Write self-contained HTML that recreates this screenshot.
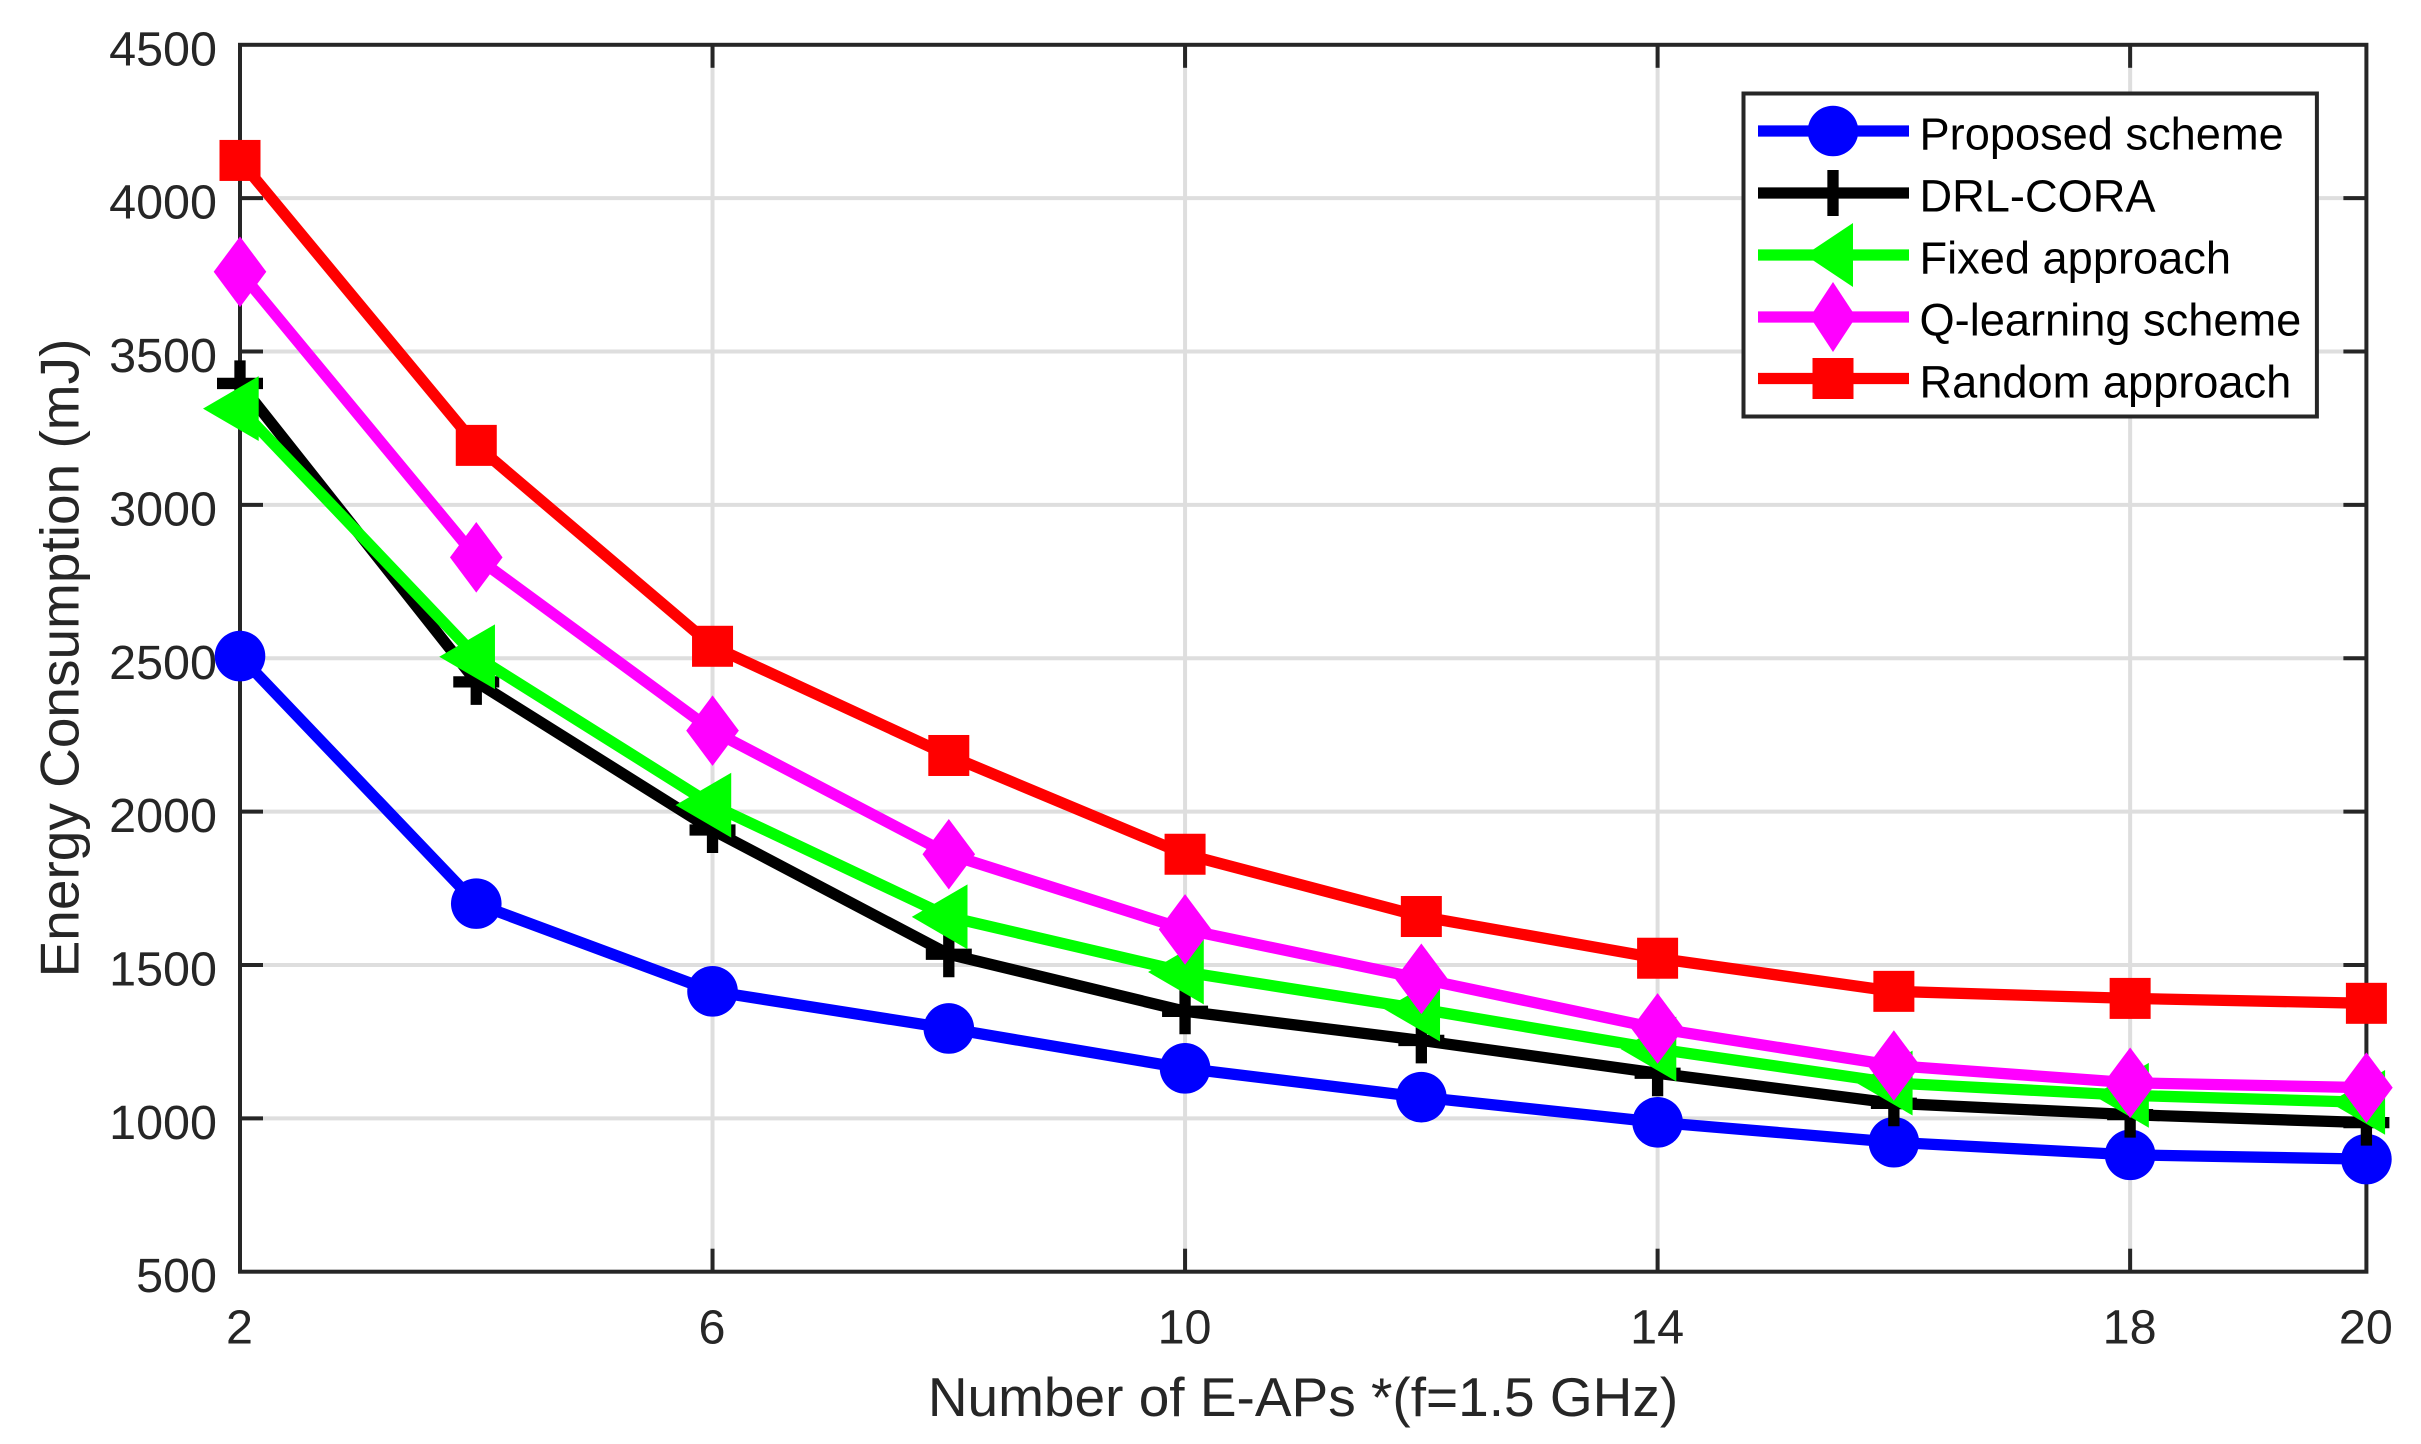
<!DOCTYPE html>
<html lang="en">
<head>
<meta charset="utf-8">
<title>Energy Consumption vs Number of E-APs</title>
<style>
  html, body { margin: 0; padding: 0; background: #ffffff; }
  #chart { display: block; width: 2421px; height: 1444px; font-family: "Liberation Sans", Arial, sans-serif; }
</style>
</head>
<body>
<svg id="chart" xmlns="http://www.w3.org/2000/svg" width="2421" height="1444" viewBox="0 0 2421 1444">
  <rect x="0" y="0" width="2421" height="1444" fill="#ffffff"/>
  <g id="grid-layer"></g>
  <g id="axes-layer"></g>
  <g id="series-layer"></g>

  <text x="1303" y="1416" font-size="55" fill="#262626" text-anchor="middle">Number of E-APs *(f=1.5 GHz)</text>
  <text transform="translate(78.3 658) rotate(-90)" font-size="55" fill="#262626" text-anchor="middle">Energy Consumption (mJ)</text>

  <g>
    <rect x="1743.5" y="93.5" width="573.4" height="323" fill="#ffffff" stroke="#262626" stroke-width="4"/>

    <g>
      <line x1="1758" y1="131" x2="1909" y2="131" stroke="#0000ff" stroke-width="11.3"/>
      <circle cx="1833" cy="131" r="25.3" fill="#0000ff"/>
      <text x="1919.5" y="149.3" font-size="45.2" fill="#000000">Proposed scheme</text>
    </g>
    <g>
      <line x1="1758" y1="193" x2="1909" y2="193" stroke="#000000" stroke-width="11.3"/>
      <line x1="1833" y1="170" x2="1833" y2="216" stroke="#000000" stroke-width="11.3"/>
      <text x="1919.5" y="211.7" font-size="45.2" fill="#000000">DRL-CORA</text>
    </g>
    <g>
      <line x1="1758" y1="255" x2="1909" y2="255" stroke="#00ff00" stroke-width="11.3"/>
      <polygon points="1805,255 1853,223 1853,287" fill="#00ff00"/>
      <text x="1919.5" y="273.3" font-size="45.2" fill="#000000">Fixed approach</text>
    </g>
    <g>
      <line x1="1758" y1="317" x2="1909" y2="317" stroke="#ff00ff" stroke-width="11.3"/>
      <polygon points="1833,282 1856,317 1833,352 1810,317" fill="#ff00ff"/>
      <text x="1919.5" y="335.3" font-size="45.2" fill="#000000">Q-learning scheme</text>
    </g>
    <g>
      <line x1="1758" y1="378.5" x2="1909" y2="378.5" stroke="#ff0000" stroke-width="11.3"/>
      <rect x="1812.5" y="358" width="41" height="41" fill="#ff0000"/>
      <text x="1919.5" y="397.7" font-size="45.2" fill="#000000">Random approach</text>
    </g>
  </g>
</svg>

<script>
const categories = [2, 4, 6, 8, 10, 12, 14, 16, 18, 20];
const xTickValues = [2, 6, 10, 14, 18, 20];
const yTickValues = [500, 1000, 1500, 2000, 2500, 3000, 3500, 4000, 4500];
const proposedScheme = [2507, 1700, 1414, 1293, 1163, 1069, 987, 922, 881, 867];
const drlCora = [3396, 2423, 1940, 1535, 1349, 1254, 1147, 1049, 1012, 986];
const fixedApproach = [3314, 2505, 2021, 1657, 1477, 1356, 1226, 1115, 1075, 1052];
const qLearningScheme = [3760, 2829, 2264, 1861, 1616, 1455, 1293, 1172, 1116, 1100];
const randomApproach = [4123, 3194, 2539, 2183, 1861, 1658, 1522, 1414, 1391, 1375];

const SVG_NS = 'http://www.w3.org/2000/svg';
const plotLeft = 240, plotRight = 2366.4, plotTop = 44.8, plotBottom = 1271.7;
const xMin = 2, xMax = 20, yMin = 500, yMax = 4500;
const tickLength = 23, axisColor = '#262626', gridColor = '#dedede', axisWidth = 4;

function xScale(v) { return plotLeft + (v - xMin) / (xMax - xMin) * (plotRight - plotLeft); }
function yScale(v) { return plotBottom - (v - yMin) / (yMax - yMin) * (plotBottom - plotTop); }

function make(tag, attrs, parent) {
  const el = document.createElementNS(SVG_NS, tag);
  for (const k in attrs) el.setAttribute(k, attrs[k]);
  parent.appendChild(el);
  return el;
}

const gridLayer = document.getElementById('grid-layer');
const axesLayer = document.getElementById('axes-layer');
const seriesLayer = document.getElementById('series-layer');

xTickValues.forEach(function (t) {
  const x = xScale(t);
  if (t !== xMin && t !== xMax) {
    const g = make('line', { x1: x, x2: x, y1: plotTop, y2: plotBottom, stroke: gridColor, 'stroke-width': axisWidth }, gridLayer);
    
    
    const a = make('line', { x1: x, x2: x, y1: plotBottom, y2: plotBottom - tickLength, stroke: axisColor, 'stroke-width': axisWidth }, axesLayer);
    
    
    const b = make('line', { x1: x, x2: x, y1: plotTop, y2: plotTop + tickLength, stroke: axisColor, 'stroke-width': axisWidth }, axesLayer);
    
    
  }
  const label = make('text', { x: x - 0.5, y: 1343.3, 'font-size': 48.5, fill: axisColor, 'text-anchor': 'middle' }, axesLayer);
  
  
  label.textContent = String(t);
});

yTickValues.forEach(function (t) {
  const y = yScale(t);
  if (t !== yMin && t !== yMax) {
    const g = make('line', { x1: plotLeft, x2: plotRight, y1: y, y2: y, stroke: gridColor, 'stroke-width': axisWidth }, gridLayer);
    
    
    const a = make('line', { x1: plotLeft, x2: plotLeft + tickLength, y1: y, y2: y, stroke: axisColor, 'stroke-width': axisWidth }, axesLayer);
    
    
    const b = make('line', { x1: plotRight, x2: plotRight - tickLength, y1: y, y2: y, stroke: axisColor, 'stroke-width': axisWidth }, axesLayer);
    
    
  }
  const label = make('text', { x: 217, y: y + 20.5, 'font-size': 48.5, fill: axisColor, 'text-anchor': 'end' }, axesLayer);
  
  
  label.textContent = String(t);
});

const frame = make('rect', { x: plotLeft, y: plotTop, width: plotRight - plotLeft, height: plotBottom - plotTop, fill: 'none', stroke: axisColor, 'stroke-width': axisWidth }, axesLayer);



function drawCircle(g, x, y, color) {
  make('circle', { cx: x, cy: y, r: 25.3, fill: color }, g);
}
function drawPlus(g, x, y, color) {
  make('line', { x1: x - 23, x2: x + 23, y1: y, y2: y, stroke: color, 'stroke-width': 11.3 }, g);
  make('line', { x1: x, x2: x, y1: y - 23, y2: y + 23, stroke: color, 'stroke-width': 11.3 }, g);
}
function drawTriangle(g, x, y, color) {
  make('polygon', { points: (x - 37) + ',' + y + ' ' + (x + 18.7) + ',' + (y - 32.4) + ' ' + (x + 18.7) + ',' + (y + 32.4), fill: color }, g);
}
function drawDiamond(g, x, y, color) {
  make('polygon', { points: x + ',' + (y - 35.3) + ' ' + (x + 26.3) + ',' + y + ' ' + x + ',' + (y + 35.3) + ' ' + (x - 26.3) + ',' + y, fill: color }, g);
}
function drawSquare(g, x, y, color) {
  make('rect', { x: x - 20.5, y: y - 20.5, width: 41, height: 41, fill: color }, g);
}

function drawSeries(name, values, color, marker) {
  const g = make('g', {}, seriesLayer);
  
  
  const pts = categories.map(function (c, i) { return xScale(c) + ',' + yScale(values[i]); }).join(' ');
  const line = make('polyline', { points: pts, fill: 'none', stroke: color, 'stroke-width': 11.3, 'stroke-linejoin': 'round' }, g);
  
  
  categories.forEach(function (c, i) {
    const m = make('g', {}, g);
    
    
    marker(m, xScale(c), yScale(values[i]), color);
  });
}

drawSeries('proposed-scheme-series', proposedScheme, '#0000ff', drawCircle);
drawSeries('drl-cora-series', drlCora, '#000000', drawPlus);
drawSeries('fixed-approach-series', fixedApproach, '#00ff00', drawTriangle);
drawSeries('q-learning-scheme-series', qLearningScheme, '#ff00ff', drawDiamond);
drawSeries('random-approach-series', randomApproach, '#ff0000', drawSquare);
</script>
</body>
</html>
